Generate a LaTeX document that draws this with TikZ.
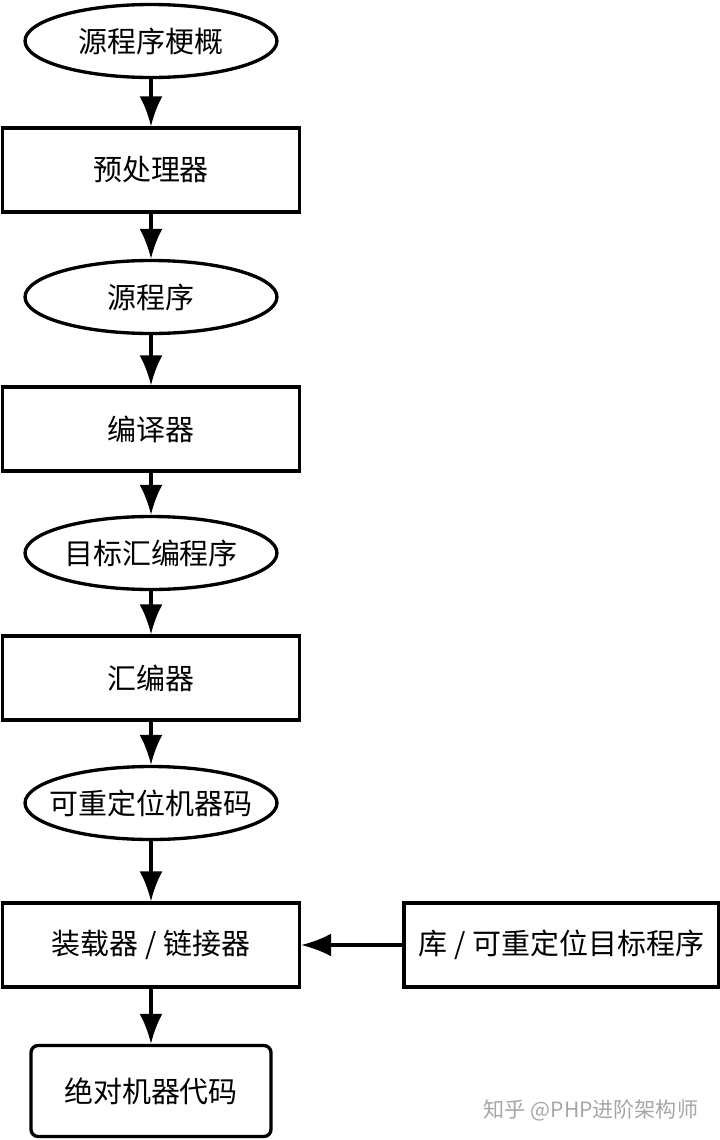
\documentclass[tikz,border=0pt]{standalone}
\usepackage{fontspec}
\newfontfamily\cjk{Noto Sans CJK SC}
\usepackage{tikz}
\usetikzlibrary{shapes.geometric,arrows.meta}

\tikzset{
  prog/.style={ellipse, draw, line width=1.9pt, minimum width=5.04cm, minimum height=1.46cm, inner xsep=-0.26cm, inner ysep=0pt, font=\cjk\fontsize{16.5}{18}\selectfont},
  tool/.style={rectangle, draw, line width=1.9pt, minimum width=5.94cm, minimum height=1.68cm, inner sep=0pt, font=\cjk\fontsize{16.5}{18}\selectfont},
  flow/.style={line width=1.9pt, -{Latex[length=0.6cm, width=0.46cm]}}
}

\begin{document}
\begin{tikzpicture}[x=0.02cm, y=-0.02cm]
\useasboundingbox (0,0) rectangle (720,1140);

% Programme und Werkzeuge
\node[prog] (skel) at (151,41) {源程序梗概};
\node[tool] (pre) at (151,170) {预处理器};
\node[prog] (src) at (151,297) {源程序};
\node[tool] (comp) at (151,429) {编译器};
\node[prog] (asmprog) at (151,553) {目标汇编程序};
\node[tool] (asm) at (151,678) {汇编器};
\node[prog] (reloc) at (151,803) {可重定位机器码};
\node[tool] (link) at (151,945) {装载器 / 链接器};
\node[tool, minimum width=6.3cm] (lib) at (561.5,945) {库 / 可重定位目标程序};
\node[tool, rounded corners=4pt, minimum width=4.8cm, minimum height=1.82cm] (abs) at (151,1091) {绝对机器代码};

% Pfeile
\draw[flow] (skel) -- (pre);
\draw[flow] (pre) -- (src);
\draw[flow] (src) -- (comp);
\draw[flow] (comp) -- (asmprog);
\draw[flow] (asmprog) -- (asm);
\draw[flow] (asm) -- (reloc);
\draw[flow] (reloc) -- (link);
\draw[flow] (lib) -- (link);
\draw[flow] (link) -- (abs);

% Wasserzeichen
\node[text=black!35, font=\cjk\fontsize{12}{14}\selectfont] (mark) at (591,1110) {知乎 @PHP进阶架构师};

\end{tikzpicture}
\end{document}
